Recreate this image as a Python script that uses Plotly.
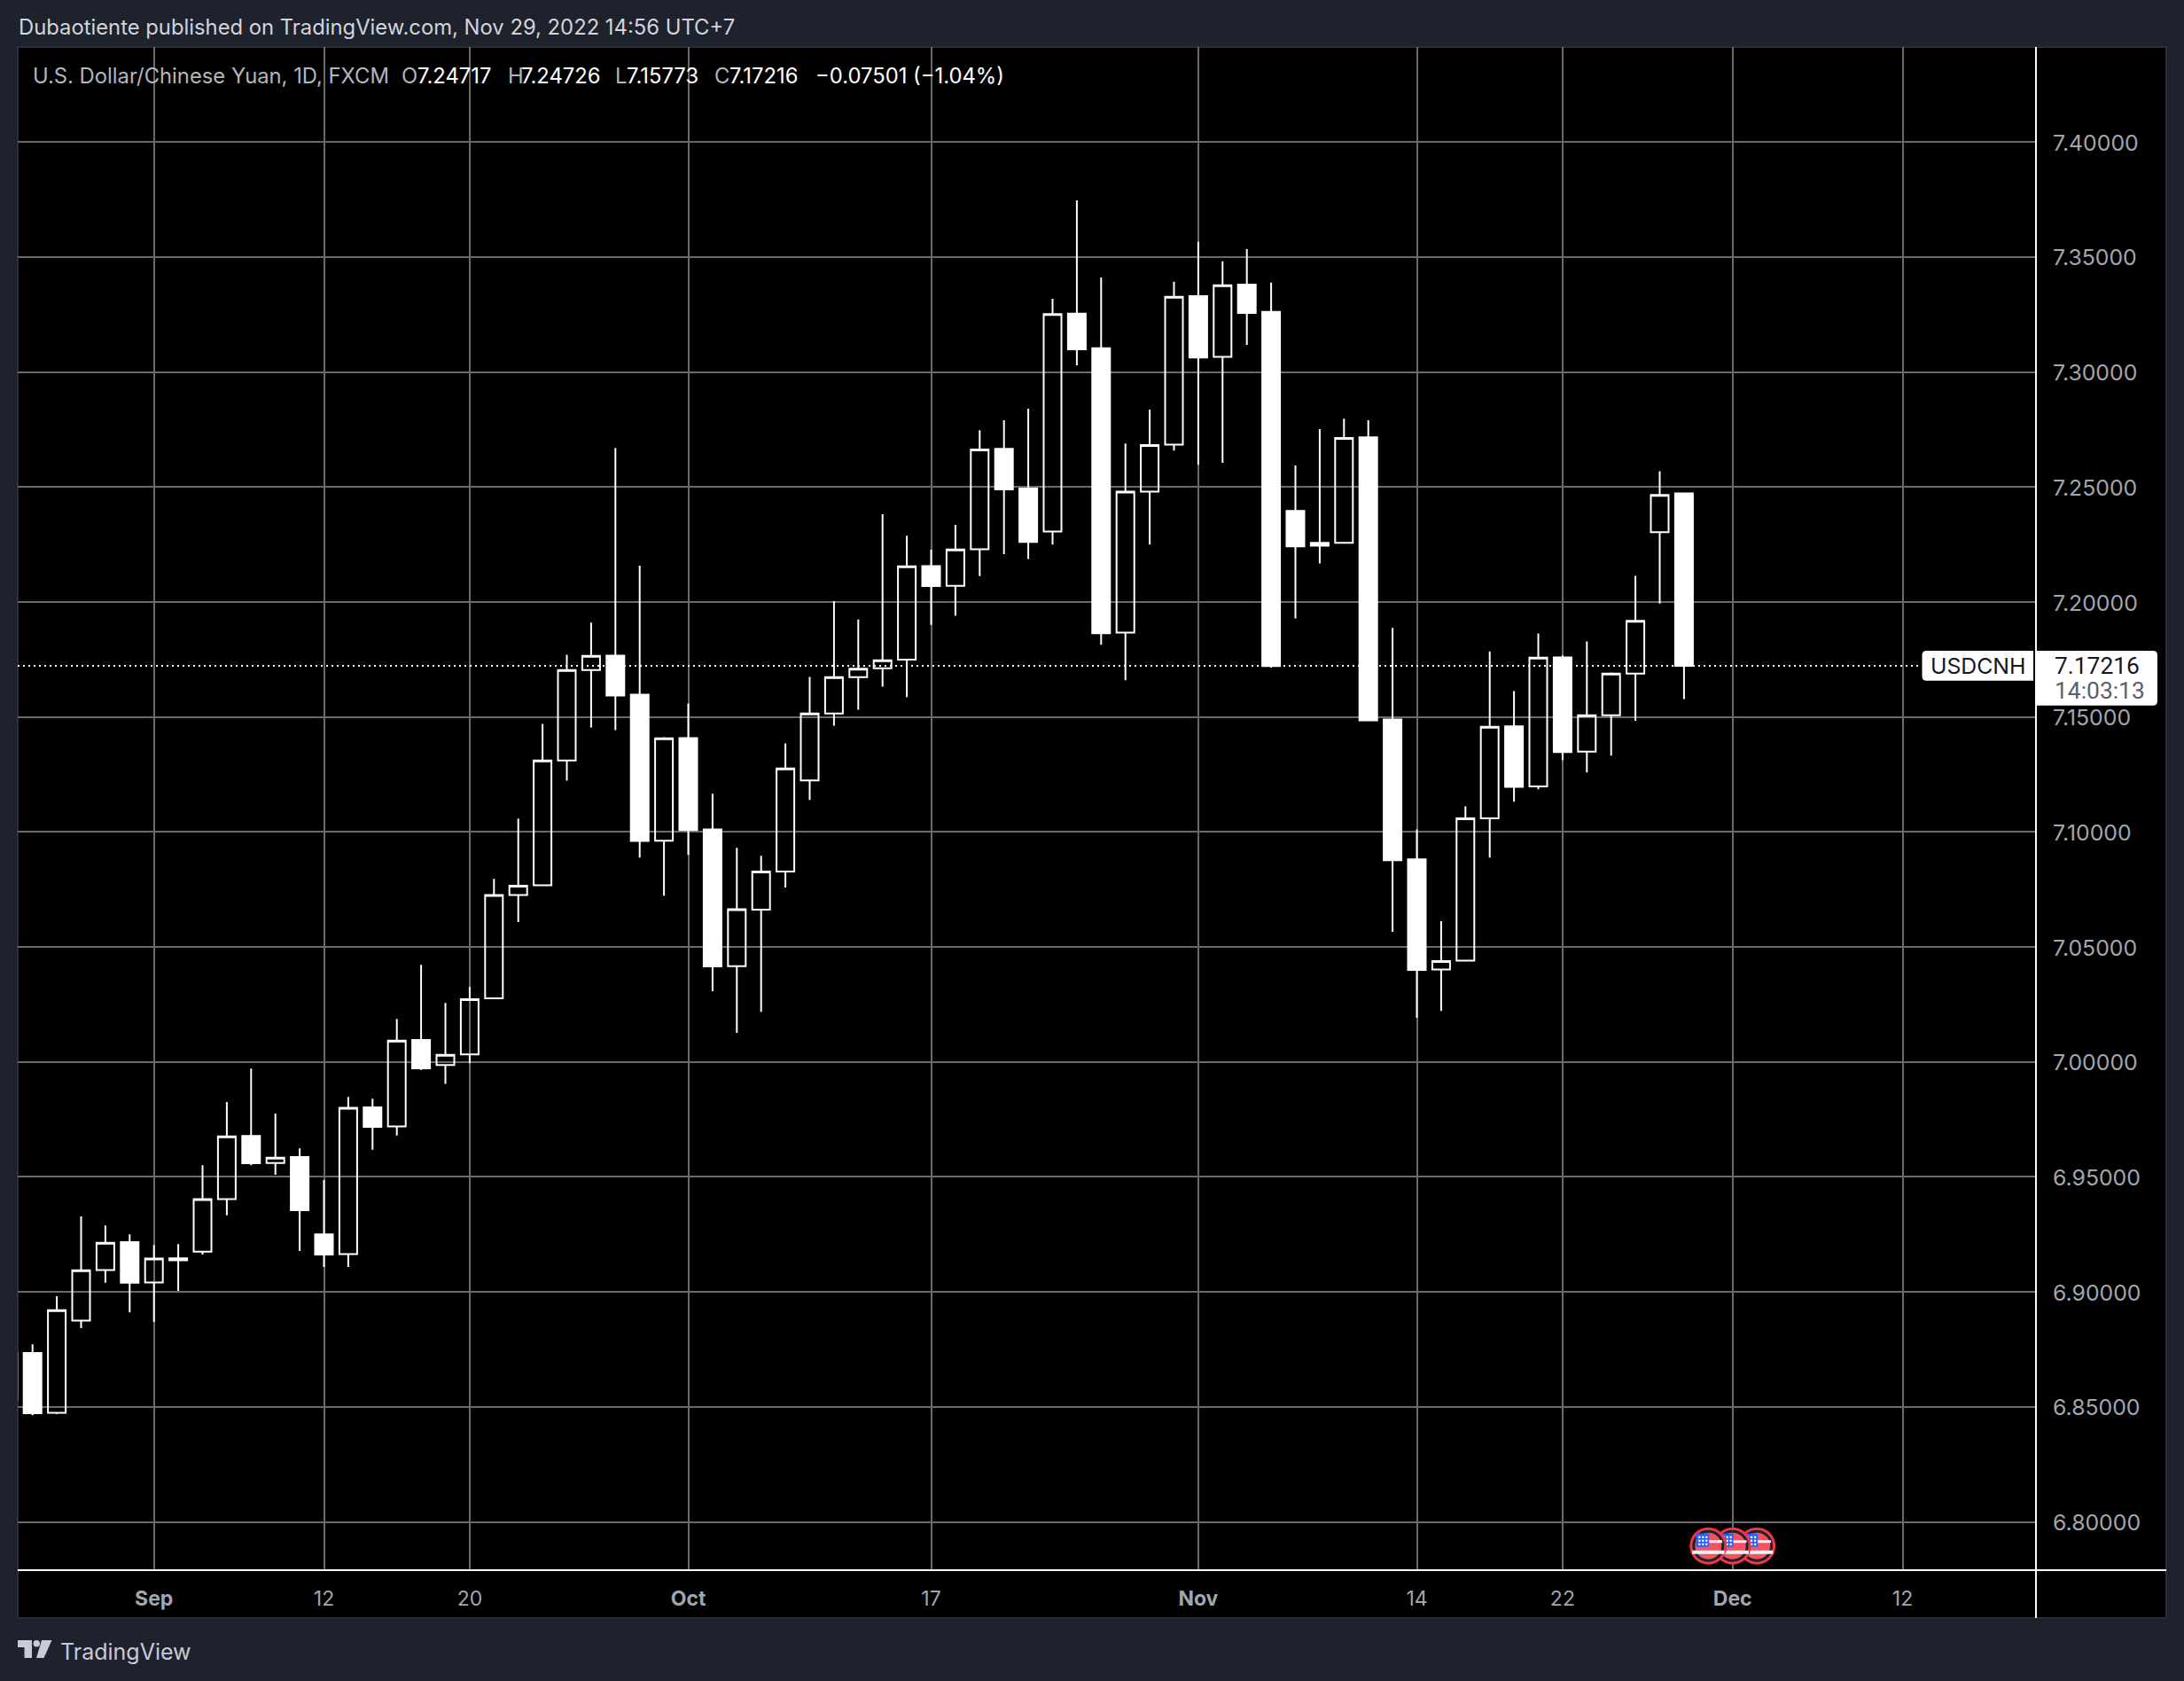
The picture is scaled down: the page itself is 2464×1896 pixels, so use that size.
import pandas as pd
import plotly.graph_objects as go

# ---- data ----
dates = [d.strftime("%Y-%m-%d") for d in pd.bdate_range("2022-08-24", "2022-11-29")]
opens = [6.8532, 6.8734, 6.8474, 6.8875, 6.9095, 6.9216, 6.9041, 6.9146, 6.9175, 6.9403, 6.9678,
         6.9560, 6.9586, 6.9250, 6.9164, 6.9802, 6.9719, 7.0095, 6.9986, 7.0033, 7.0276, 7.0726,
         7.0768, 7.1311, 7.1704, 7.1766, 7.1597, 7.0962, 7.1408, 7.1011, 7.0416, 7.0662, 7.0828,
         7.1224, 7.1515, 7.1673, 7.1711, 7.1749, 7.2156, 7.2070, 7.2229, 7.2666, 7.2493, 7.2306,
         7.3253, 7.3103, 7.1867, 7.2480, 7.2684, 7.3330, 7.3066, 7.3380, 7.3261, 7.2396, 7.2257,
         7.2257, 7.2716, 7.1489, 7.0881, 7.0402, 7.0440, 7.1059, 7.1459, 7.1198, 7.1759, 7.1349,
         7.1507, 7.1688, 7.2303, 7.24717]
highs = [6.8740, 6.8772, 6.8981, 6.9328, 6.9289, 6.9250, 6.9204, 6.9208, 6.9551, 6.9825, 6.9971,
         6.9775, 6.9624, 6.9486, 6.9848, 6.9840, 7.0187, 7.0422, 7.0256, 7.0326, 7.0796, 7.1058,
         7.1470, 7.1770, 7.1910, 7.2669, 7.2158, 7.1412, 7.1558, 7.1166, 7.0931, 7.0896, 7.1385,
         7.1674, 7.2003, 7.1923, 7.2381, 7.2288, 7.2227, 7.2335, 7.2747, 7.2790, 7.2840, 7.3318,
         7.3746, 7.3411, 7.2689, 7.2836, 7.3392, 7.3566, 7.3481, 7.3534, 7.3388, 7.2593, 7.2751,
         7.2797, 7.2790, 7.1887, 7.1011, 7.0612, 7.1111, 7.1785, 7.1612, 7.1863, 7.1767, 7.1828,
         7.1693, 7.2113, 7.2568, 7.24726]
lows = [6.8500, 6.8464, 6.8468, 6.8842, 6.9040, 6.8911, 6.8869, 6.9004, 6.9162, 6.9333, 6.9551,
        6.9509, 6.9178, 6.9108, 6.9108, 6.9618, 6.9680, 6.9965, 6.9904, 6.9994, 7.0274, 7.0608,
        7.0766, 7.1223, 7.1454, 7.1443, 7.0888, 7.0723, 7.0900, 7.0307, 7.0126, 7.0218, 7.0758,
        7.1139, 7.1462, 7.1531, 7.1631, 7.1586, 7.1900, 7.1940, 7.2112, 7.2208, 7.2187, 7.2249,
        7.3029, 7.1814, 7.1659, 7.2249, 7.2658, 7.2596, 7.2605, 7.3118, 7.1714, 7.1928, 7.2167,
        7.2255, 7.1483, 7.0566, 7.0192, 7.0221, 7.0438, 7.0888, 7.1131, 7.1185, 7.1312, 7.1258,
        7.1332, 7.1483, 7.1993, 7.15773]
closes = [6.8734, 6.8472, 6.8920, 6.9094, 6.9213, 6.9040, 6.9145, 6.9137, 6.9403, 6.9676, 6.9559,
          6.9583, 6.9355, 6.9162, 6.9800, 6.9717, 7.0092, 6.9972, 7.0031, 7.0273, 7.0726, 7.0766,
          7.1311, 7.1704, 7.1765, 7.1593, 7.0961, 7.1407, 7.1008, 7.0415, 7.0664, 7.0828, 7.1276,
          7.1515, 7.1673, 7.1710, 7.1746, 7.2155, 7.2069, 7.2228, 7.2663, 7.2489, 7.2261, 7.3252,
          7.3098, 7.1864, 7.2480, 7.2682, 7.3327, 7.3063, 7.3377, 7.3256, 7.1721, 7.2242, 7.2244,
          7.2713, 7.1485, 7.0877, 7.0400, 7.0438, 7.1059, 7.1457, 7.1196, 7.1758, 7.1347, 7.1507,
          7.1688, 7.1918, 7.2465, 7.17216]

price_ticks = [6.80, 6.85, 6.90, 6.95, 7.00, 7.05, 7.10, 7.15, 7.20, 7.25, 7.30, 7.35, 7.40]
tick_dates = ["2022-09-01", "2022-09-12", "2022-09-20", "2022-10-03", "2022-10-17",
              "2022-11-01", "2022-11-14", "2022-11-22", "2022-12-01", "2022-12-12"]
tick_labels = ["<b>Sep</b>", "12", "20", "<b>Oct</b>", "17", "<b>Nov</b>", "14", "22", "<b>Dec</b>", "12"]
event_dates = ["2022-12-02", "2022-12-01", "2022-11-30"]

# ---- geometry ----
W, H = 2464, 1896
L, R, T, B = 20, 2297, 53, 1771
BAR_PX = 27.4
X0_PX = 9.3              # pixel position of session 0
PX_PER_UNIT = 2594.0
Y700_PX = 1197.7

sessions = pd.bdate_range("2022-08-24", "2023-01-31").strftime("%Y-%m-%d").tolist()
pos = {d: i for i, d in enumerate(sessions)}
x_vals = [pos[d] for d in dates]
x_range = [(L - X0_PX) / BAR_PX, (R - X0_PX) / BAR_PX]
y_range = [7 + (Y700_PX - B) / PX_PER_UNIT, 7 + (Y700_PX - T) / PX_PER_UNIT]


def px(v):
    return (v - L) / (R - L)


def py(v):
    return (B - v) / (B - T)


PAGE = "#1e222d"
FRAME = "#2a2e39"
GRID = "#6a6a6a"
AXIS_TXT = "#a3a6af"
LABEL = "#b2b5be"
FONT = "Inter"
HEAD = 23.8

fig = go.Figure()
fig.add_trace(go.Candlestick(
    x=x_vals, open=opens, high=highs, low=lows, close=closes,
    increasing=dict(line=dict(color="#ffffff", width=2), fillcolor="rgba(0,0,0,0)"),
    decreasing=dict(line=dict(color="#ffffff", width=2), fillcolor="#ffffff"),
    whiskerwidth=0, hoverinfo="skip", showlegend=False,
))
# last price line
fig.add_trace(go.Scatter(
    x=[x_range[0], (2164 - X0_PX) / BAR_PX], y=[closes[-1], closes[-1]], mode="lines",
    line=dict(color="#ffffff", width=2, dash="2px,4px"), hoverinfo="skip", showlegend=False,
))


def mk(x, y, size, color, symbol="circle", line=None, dxp=0, dyp=0):
    fig.add_trace(go.Scatter(
        x=[x + dxp / BAR_PX], y=[y - dyp / PX_PER_UNIT], mode="markers",
        marker=dict(size=size, color=color, symbol=symbol, line=line or dict(width=0)),
        hoverinfo="skip", showlegend=False, cliponaxis=False,
    ))


# economic-event flags
EVENT_Y = 7 + (Y700_PX - 1743.7) / PX_PER_UNIT
for d in event_dates:
    ex = pos[d]
    mk(ex, EVENT_Y, 42, "#f23645")
    mk(ex, EVENT_Y, 36, "#1e222d")
    mk(ex, EVENT_Y, 30, "#f7525f")
    mk(ex, EVENT_Y, 14, "#f0f3fa", "line-ew", dict(width=3, color="#f0f3fa"), dxp=6, dyp=-5)
    mk(ex, EVENT_Y, 26, "#f0f3fa", "line-ew", dict(width=4, color="#f0f3fa"), dyp=7)
    mk(ex, EVENT_Y, 15, "#2962ff", "square", dxp=-6.5, dyp=-6.5)
    for sx, sy in [(-10, -10), (-6, -10), (-2, -10), (-10, -6), (-6, -6), (-2, -6), (-10, -2), (-6, -2), (-2, -2)]:
        mk(ex, EVENT_Y, 2.5, "#ffffff", dxp=sx, dyp=sy)


def rounded(x0, y0, x1, y1, rl=0, rr=0):
    pts = [f"M{px(x0 + rl)},{py(y0)}", f"L{px(x1 - rr)},{py(y0)}"]
    if rr:
        pts.append(f"Q{px(x1)},{py(y0)} {px(x1)},{py(y0 + rr)}")
    pts.append(f"L{px(x1)},{py(y1 - rr)}")
    if rr:
        pts.append(f"Q{px(x1)},{py(y1)} {px(x1 - rr)},{py(y1)}")
    pts.append(f"L{px(x0 + rl)},{py(y1)}")
    if rl:
        pts.append(f"Q{px(x0)},{py(y1)} {px(x0)},{py(y1 - rl)}")
    pts.append(f"L{px(x0)},{py(y0 + rl)}")
    if rl:
        pts.append(f"Q{px(x0)},{py(y0)} {px(x0 + rl)},{py(y0)}")
    return " ".join(pts) + " Z"


def pshape(path, color):
    return dict(type="path", xref="paper", yref="paper", path=path, fillcolor=color,
                line=dict(width=0), layer="above")


def pline(x0, y0, x1, y1, color="#ffffff", width=2):
    return dict(type="line", xref="paper", yref="paper", x0=px(x0), y0=py(y0), x1=px(x1), y1=py(y1),
                line=dict(color=color, width=width), layer="above")


logo_t = (f"M{px(20)},{py(1850)} L{px(36)},{py(1850)} L{px(36)},{py(1870)} L{px(27.5)},{py(1870)} "
          f"L{px(27.5)},{py(1858)} L{px(20)},{py(1858)} Z")
logo_s = (f"M{px(47)},{py(1850)} L{px(58.5)},{py(1850)} L{px(49.5)},{py(1870)} L{px(41)},{py(1870)} Z")
logo_d = rounded(37.5, 1850, 45, 1857.5, 3.7, 3.7)

shapes = [
    dict(type="rect", xref="paper", yref="paper", x0=px(20), x1=px(2444), y0=py(53), y1=py(1825),
         fillcolor="#000000", line=dict(color=FRAME, width=2), layer="below"),
    pline(L, B, 2444, B),
    pline(R, T, R, 1825),
    pshape(rounded(2168.5, 734, 2294, 767.7, rl=5), "#ffffff"),
    pshape(rounded(2298, 734, 2434, 795.7, rr=5), "#ffffff"),
    pshape(logo_t, "#c8cad5"), pshape(logo_s, "#c8cad5"), pshape(logo_d, "#c8cad5"),
]

ann = []


def text(x, y, s, size, color, anchor="left", family=FONT):
    ann.append(dict(xref="paper", yref="paper", x=px(x), y=py(y), text=s, showarrow=False,
                    xanchor=anchor, yanchor="middle", borderpad=0,
                    font=dict(family=family, size=size, color=color)))


text(20, 31, "Dubaotiente published on TradingView.com, Nov 29, 2022 14:56 UTC+7", HEAD, "#d1d4dc")
text(36, 86, "U.S. Dollar/Chinese Yuan, 1D, FXCM", HEAD, LABEL)
for lx, lab, vx, val in [(452, "O", 470, "7.24717"), (572, "H", 587, "7.24726"),
                         (693, "L", 706, "7.15773"), (805, "C", 822, "7.17216")]:
    text(lx, 86, lab, HEAD, LABEL)
    text(vx, 86, val, HEAD, "#ffffff")
text(919, 86, "\u22120.07501 (\u22121.04%)", HEAD, "#ffffff")
text(2231, 751, "USDCNH", 24.8, "#131722", "center")
text(2317, 751, "7.17216", 26.4, "#131722", family="Roboto")
text(2317, 779, "14:03:13", 26.4, "#5d606b", family="Roboto")
text(67, 1863, "TradingView", 25, "#c8cad5")

fig.update_layout(
    width=W, height=H, autosize=False,
    margin=dict(l=L, r=W - R, t=T, b=H - B, pad=0),
    paper_bgcolor=PAGE, plot_bgcolor="rgba(0,0,0,0)",
    font=dict(family=FONT, color=AXIS_TXT, size=24),
    boxgap=0.27, boxgroupgap=0, showlegend=False, shapes=shapes, annotations=ann,
    hovermode=False,
    xaxis=dict(type="linear", range=x_range, rangeslider=dict(visible=False),
               tickmode="array", tickvals=[pos[d] for d in tick_dates], ticktext=tick_labels,
               showgrid=True, gridcolor=GRID, gridwidth=2, zeroline=False, showline=False,
               ticks="", ticklabelstandoff=16, tickfont=dict(family=FONT, size=23, color=AXIS_TXT)),
    yaxis=dict(type="linear", side="right", range=y_range, tickmode="array", tickvals=price_ticks,
               ticktext=[f"{v:.5f}" for v in price_ticks],
               showgrid=True, gridcolor=GRID, gridwidth=2, zeroline=False, showline=False,
               ticks="", ticklabelstandoff=18, ticklabelshift=1,
               tickfont=dict(family=FONT, size=24.8, color=AXIS_TXT)),
)
fig.write_html("out.html", config={"displayModeBar": False}, post_script=(
    "document.documentElement.style.background='#1e222d';"
    "document.body.style.margin='0';document.body.style.background='#1e222d';"
))
